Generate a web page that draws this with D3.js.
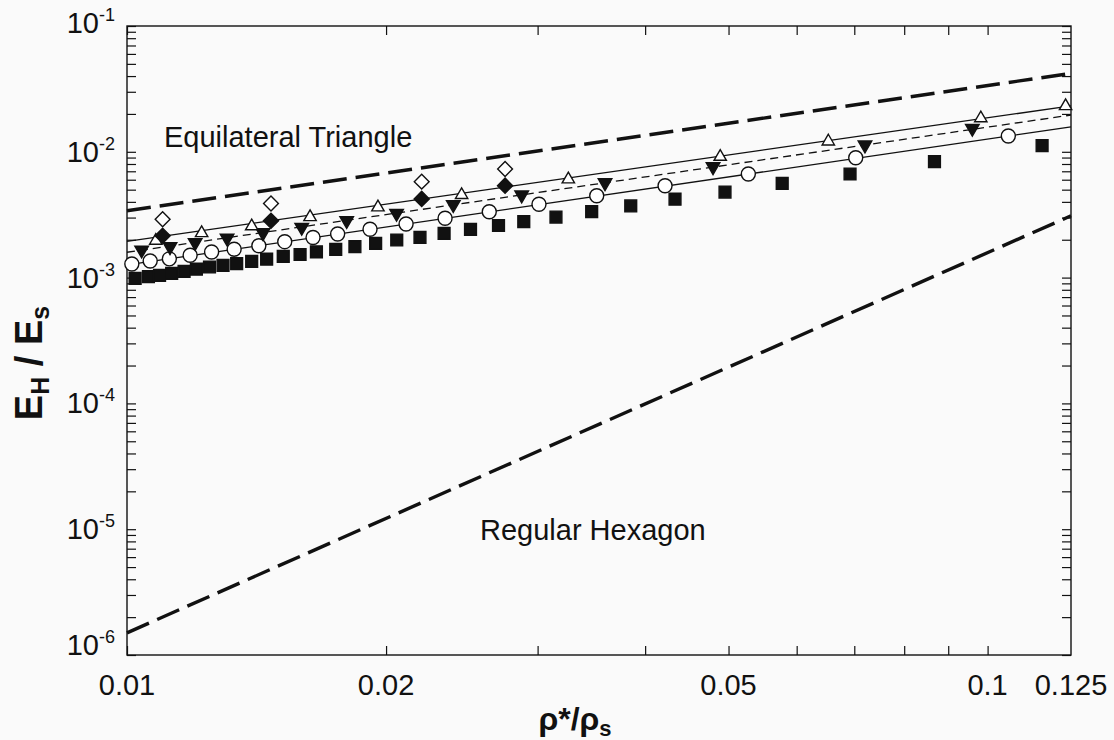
<!DOCTYPE html>
<html>
<head>
<meta charset="utf-8">
<script src="https://cdn.jsdelivr.net/npm/d3@7"></script>
<style>
  body { margin: 0; background: #fafafa; }
  svg { display: block; background: #fafafa; font-family: "Liberation Sans", Arial, sans-serif; }
</style>
</head>
<body>
<div id="chart"></div>
<script>
const svgWidth = 1114;
const svgHeight = 740;

// plot box
const margin = { top: 26, right: 43, bottom: 85, left: 127 };
const chartWidth = svgWidth - margin.left - margin.right;
const chartHeight = svgHeight - margin.top - margin.bottom;

// ---- data ----
const xTicks = [0.01, 0.02, 0.03, 0.04, 0.05, 0.06, 0.07, 0.08, 0.09, 0.1];
const xTickLabels = [0.01, 0.02, 0.05, 0.1, 0.125];
const yDecades = [1e-6, 1e-5, 1e-4, 1e-3, 1e-2, 1e-1];
const yLabelShift = [0, 10, 10, 10, 10, 7];   // baseline offset of each 10^n label

// analytical bounds (two end points, straight in log-log)
const boundX = [0.01, 0.125];
const triangleBoundY = [3.4e-3, 4.2e-2];
const hexagonBoundY = [1.5e-6, 3.1e-3];

// fitted lines through the simulations
const fitX = [0.01, 0.125];
const fitUpperY = [1.94e-3, 2.32e-2];
const fitMiddleY = [1.59e-3, 1.96e-2];
const fitLowerY = [1.26e-3, 1.58e-2];

const diamondX = [0.011, 0.0147, 0.022, 0.0275];
const openDiamondY = [2.91e-3, 3.88e-3, 5.79e-3, 7.3e-3];
const filledDiamondY = [2.15e-3, 2.83e-3, 4.22e-3, 5.38e-3];

const triUpX = [0.0108, 0.01221, 0.01396, 0.01632, 0.01957, 0.02448, 0.03257, 0.0489, 0.0653, 0.0982, 0.1232];
const triUpY = [1.965e-3, 2.26e-3, 2.56e-3, 3.03e-3, 3.62e-3, 4.54e-3, 6.04e-3, 9.14e-3, 1.21e-2, 1.85e-2, 2.31e-2];

const triDownX = [0.0104, 0.01122, 0.012, 0.01307, 0.01439, 0.01596, 0.018, 0.02057, 0.02394, 0.02875, 0.03593, 0.04797, 0.07203, 0.096];
const triDownY = [1.657e-3, 1.76e-3, 1.9e-3, 2.06e-3, 2.275e-3, 2.51e-3, 2.84e-3, 3.24e-3, 3.81e-3, 4.54e-3, 5.68e-3, 7.61e-3, 1.133e-2, 1.537e-2];

const circleX = [0.01013, 0.01064, 0.0112, 0.01184, 0.01254, 0.01332, 0.01423, 0.01525, 0.01645, 0.01757, 0.01916, 0.0211, 0.02342, 0.02636, 0.03011, 0.03514, 0.04219, 0.05272, 0.07027, 0.1057];
const circleY = [1.283e-3, 1.355e-3, 1.41e-3, 1.504e-3, 1.598e-3, 1.682e-3, 1.793e-3, 1.93e-3, 2.084e-3, 2.22e-3, 2.425e-3, 2.667e-3, 2.96e-3, 3.34e-3, 3.83e-3, 4.47e-3, 5.37e-3, 6.66e-3, 8.97e-3, 1.335e-2];

const squareX = [0.01022, 0.01059, 0.01091, 0.01127, 0.01165, 0.01204, 0.01247, 0.01293, 0.01341, 0.01396, 0.01453, 0.01519, 0.01589, 0.0166, 0.01748, 0.0184, 0.01945, 0.02058, 0.0219, 0.02336, 0.02507, 0.02702, 0.02891, 0.03151, 0.03467, 0.03849, 0.04333, 0.04953, 0.05772, 0.06921, 0.08675, 0.1157];
const squareY = [0.987e-3, 1.017e-3, 1.043e-3, 1.082e-3, 1.122e-3, 1.166e-3, 1.214e-3, 1.252e-3, 1.29e-3, 1.348e-3, 1.401e-3, 1.477e-3, 1.526e-3, 1.604e-3, 1.679e-3, 1.76e-3, 1.867e-3, 1.99e-3, 2.09e-3, 2.249e-3, 2.42e-3, 2.595e-3, 2.782e-3, 3.03e-3, 3.34e-3, 3.71e-3, 4.2e-3, 4.79e-3, 5.6e-3, 6.66e-3, 8.34e-3, 1.118e-2];

// ---- scales ----
const svg = d3.select('#chart').append('svg').attr('width', svgWidth).attr('height', svgHeight);
const g = svg.append('g').attr('transform', `translate(${margin.left},${margin.top})`);

const xScale = d3.scaleLog().domain([0.01, 0.125]).range([0, chartWidth]);
const yScale = d3.scaleLog().domain([1e-6, 1e-1]).range([chartHeight, 0]);

const zip = (xs, ys) => xs.map((x, i) => [x, ys[i]]);
const line = d3.line().x(d => xScale(d[0])).y(d => yScale(d[1]));

// minor ticks for y: 1..9 in every decade
const yTicks = [];
yDecades.slice(0, -1).forEach(dec => {
  for (let k = 1; k < 10; k++) yTicks.push(dec * k);
});
yTicks.push(1e-1);

// ---- axes (ticks point inward) ----
const tickLen = 9;
g.append('g')
  .attr('transform', `translate(0,${chartHeight})`)
  .call(d3.axisBottom(xScale).tickValues(xTicks).tickSize(-tickLen).tickFormat(''));
g.append('g')
  .call(d3.axisTop(xScale).tickValues(xTicks).tickSize(-tickLen).tickFormat(''));
g.append('g')
  .call(d3.axisLeft(yScale).tickValues(yTicks).tickSize(-tickLen).tickFormat(''));
g.append('g')
  .attr('transform', `translate(${chartWidth},0)`)
  .call(d3.axisRight(yScale).tickValues(yTicks).tickSize(-tickLen).tickFormat(''));
g.selectAll('.domain').remove();
g.selectAll('.tick line').attr('stroke', '#111').attr('stroke-width', 1.2);

g.append('rect')
  .attr('width', chartWidth)
  .attr('height', chartHeight)
  .attr('fill', 'none')
  .attr('stroke', '#111')
  .attr('stroke-width', 1.4);

// x tick labels
g.selectAll('.xlab')
  .data(xTickLabels)
  .enter()
  .append('text')
  .attr('x', d => xScale(d))
  .attr('y', chartHeight + 40)
  .attr('text-anchor', 'middle')
  .style('font-size', '29px')
  .attr('fill', '#111')
  .text(d => d);

// y tick labels 10^n
const ylab = g.selectAll('.ylab')
  .data(yDecades)
  .enter()
  .append('text')
  .attr('x', -12)
  .attr('y', (d, i) => yScale(d) + yLabelShift[i])
  .attr('text-anchor', 'end')
  .attr('fill', '#111')
  .style('font-size', '29px');
ylab.append('tspan').text('10');
ylab.append('tspan')
  .attr('dy', -12)
  .style('font-size', '18px')
  .text(d => Math.round(Math.log10(d)));

// ---- lines ----
g.append('path')
  .datum(zip(boundX, triangleBoundY))
  .attr('d', line)
  .attr('fill', 'none')
  .attr('stroke', '#111')
  .attr('stroke-width', 3.4)
  .attr('stroke-dasharray', '24,9');
g.append('path')
  .datum(zip(boundX, hexagonBoundY))
  .attr('d', line)
  .attr('fill', 'none')
  .attr('stroke', '#111')
  .attr('stroke-width', 3.4)
  .attr('stroke-dasharray', '24,9');

g.append('path')
  .datum(zip(fitX, fitUpperY))
  .attr('d', line)
  .attr('fill', 'none')
  .attr('stroke', '#111')
  .attr('stroke-width', 1.3);
g.append('path')
  .datum(zip(fitX, fitMiddleY))
  .attr('d', line)
  .attr('fill', 'none')
  .attr('stroke', '#111')
  .attr('stroke-width', 1.3)
  .attr('stroke-dasharray', '8,5');
g.append('path')
  .datum(zip(fitX, fitLowerY))
  .attr('d', line)
  .attr('fill', 'none')
  .attr('stroke', '#111')
  .attr('stroke-width', 1.3);

// ---- markers ----
function drawSymbols(xs, ys, type, size, fill, rotate) {
  g.append('g')
    .selectAll('path')
    .data(zip(xs, ys))
    .enter()
    .append('path')
    .attr('d', d3.symbol().type(type).size(size))
    .attr('transform', d => `translate(${xScale(d[0])},${yScale(d[1])}) rotate(${rotate})`)
    .attr('fill', fill)
    .attr('stroke', '#111')
    .attr('stroke-width', 1.4);
}

drawSymbols(squareX, squareY, d3.symbolSquare, 140, '#111', 0);

g.append('g')
  .selectAll('circle')
  .data(zip(circleX, circleY))
  .enter()
  .append('circle')
  .attr('cx', d => xScale(d[0]))
  .attr('cy', d => yScale(d[1]))
  .attr('r', 7)
  .attr('fill', '#fff')
  .attr('stroke', '#111')
  .attr('stroke-width', 1.4);

drawSymbols(triDownX, triDownY, d3.symbolTriangle, 80, '#111', 180);
drawSymbols(triUpX, triUpY, d3.symbolTriangle, 66, '#fff', 0);
drawSymbols(diamondX, filledDiamondY, d3.symbolSquare, 115, '#111', 45);
drawSymbols(diamondX, openDiamondY, d3.symbolSquare, 110, '#fff', 45);

// ---- annotations ----
g.append('text')
  .attr('x', 164 - margin.left)
  .attr('y', 147 - margin.top)
  .style('font-size', '29px')
  .attr('fill', '#111')
  .text('Equilateral Triangle');
g.append('text')
  .attr('x', 480 - margin.left)
  .attr('y', 540 - margin.top)
  .style('font-size', '29px')
  .attr('fill', '#111')
  .text('Regular Hexagon');

// ---- axis titles ----
const xTitle = svg.append('text')
  .attr('x', 575)
  .attr('y', 730)
  .attr('text-anchor', 'middle')
  .style('font-size', '32px')
  .style('font-weight', 'bold')
  .attr('fill', '#111');
xTitle.append('tspan').text('\u03C1*/\u03C1');
xTitle.append('tspan').attr('dy', 6).style('font-size', '22px').text('s');

const yTitle = svg.append('text')
  .attr('transform', 'translate(42,363) rotate(-90)')
  .attr('text-anchor', 'middle')
  .style('font-size', '38px')
  .style('font-weight', 'bold')
  .attr('fill', '#111');
yTitle.append('tspan').text('E');
yTitle.append('tspan').attr('dy', 7).style('font-size', '25px').text('H');
yTitle.append('tspan').attr('dy', -7).text(' / E');
yTitle.append('tspan').attr('dy', 7).style('font-size', '25px').text('s');
</script>
</body>
</html>
